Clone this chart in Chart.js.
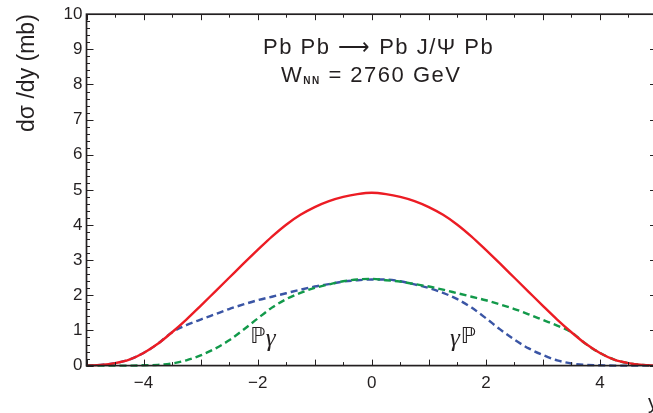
<!DOCTYPE html>
<html>
<head>
<meta charset="utf-8">
<script src="https://cdn.jsdelivr.net/npm/chart.js@4/dist/chart.umd.min.js"></script>
<style>
  html, body { margin: 0; padding: 0; background: #fff; overflow: hidden; }
  #wrap { width: 670px; height: 413px; }
</style>
</head>
<body>
<div id="wrap"><canvas id="mainChart" width="670" height="413"></canvas></div>
<script>
// rapidity grid (y) and dσ/dy values in mb
const rapidity = [-5, -4.75, -4.5, -4.25, -4, -3.75, -3.5, -3.25, -3, -2.75, -2.5, -2.25, -2, -1.75, -1.5, -1.25, -1, -0.75, -0.5, -0.25,
                  0, 0.25, 0.5, 0.75, 1, 1.25, 1.5, 1.75, 2, 2.25, 2.5, 2.75, 3, 3.25, 3.5, 3.75, 4, 4.25, 4.5, 4.75, 5];
const totalXs = [0, 0.02, 0.07, 0.17, 0.36, 0.62, 0.95, 1.31, 1.70, 2.10, 2.50, 2.90, 3.29, 3.67, 4.01, 4.29, 4.51, 4.68, 4.80, 4.88,
                 4.92, 4.88, 4.80, 4.68, 4.51, 4.29, 4.01, 3.67, 3.29, 2.90, 2.50, 2.10, 1.70, 1.31, 0.95, 0.62, 0.36, 0.17, 0.07, 0.02, 0];
const gammaPom = [0, 0.02, 0.07, 0.17, 0.36, 0.62, 0.95, 1.15, 1.31, 1.46, 1.61, 1.74, 1.86, 1.96, 2.06, 2.16, 2.25, 2.32, 2.39, 2.43,
                  2.45, 2.45, 2.40, 2.31, 2.21, 2.07, 1.89, 1.65, 1.35, 1.03, 0.74, 0.49, 0.30, 0.15, 0.06, 0.02, 0.01, 0, 0, 0, 0];
const pomGamma = [0, 0, 0, 0, 0.01, 0.02, 0.06, 0.15, 0.29, 0.48, 0.72, 1.02, 1.34, 1.65, 1.89, 2.07, 2.21, 2.31, 2.40, 2.45,
                  2.47, 2.43, 2.39, 2.32, 2.25, 2.16, 2.06, 1.96, 1.86, 1.74, 1.61, 1.46, 1.30, 1.14, 0.95, 0.62, 0.36, 0.17, 0.07, 0.02, 0];

const xTicks = [-4, -2, 0, 2, 4];
const yTicks = [0, 1, 2, 3, 4, 5, 6, 7, 8, 9, 10];

const INK = '#231f20';
const FONT = '"Liberation Sans", Arial, sans-serif';

function toPoints(values) {
    return rapidity.map((r, i) => ({ x: r, y: values[i] }));
}

// frame with inward ticks, plus the text drawn inside the plot
const framePlugin = {
    id: 'frame',
    afterDraw(chart) {
        const { ctx, chartArea: a, scales: { x, y } } = chart;
        ctx.save();
        ctx.strokeStyle = INK;
        ctx.lineWidth = 1.7;
        ctx.strokeRect(a.left, a.top, a.right - a.left, a.bottom - a.top);

        ctx.lineWidth = 1;
        ctx.beginPath();
        for (let i = 0; i <= 20; i++) {
            const px = Math.round(x.getPixelForValue(-5 + i * 0.5)) + 0.5;
            const len = i % 2 === 0 ? 6 : 3.5;
            ctx.moveTo(px, a.bottom); ctx.lineTo(px, a.bottom - len);
            ctx.moveTo(px, a.top); ctx.lineTo(px, a.top + len);
        }
        for (let i = 0; i <= 50; i++) {
            const py = Math.round(y.getPixelForValue(i * 0.2)) + 0.5;
            const len = i % 5 === 0 ? 7 : 3.5;
            ctx.moveTo(a.left, py); ctx.lineTo(a.left + len, py);
            ctx.moveTo(a.right, py); ctx.lineTo(a.right - len, py);
        }
        ctx.stroke();

        ctx.fillStyle = INK;
        ctx.textBaseline = 'middle';
        ctx.textAlign = 'center';
        ctx.letterSpacing = '1.5px';
        ctx.font = '22px ' + FONT;
        ctx.fillText('Pb Pb \u27F6 Pb J/\u03A8 Pb', x.getPixelForValue(0.12), y.getPixelForValue(9.05));

        // W_NN = 2760 GeV
        const cy = y.getPixelForValue(8.25);
        const big = '22px ' + FONT, small = 'bold 10px ' + FONT;
        ctx.font = big; const wW = ctx.measureText('W').width;
        const wR = ctx.measureText(' = 2760 GeV').width;
        ctx.font = small; const wS = ctx.measureText('NN').width;
        let sx = x.getPixelForValue(0) - (wW + wS + 1 + wR) / 2;
        ctx.textAlign = 'left';
        ctx.font = big; ctx.fillText('W', sx, cy); sx += wW;
        ctx.font = small; ctx.fillText('NN', sx, cy + 6); sx += wS;
        ctx.font = big; ctx.fillText(' = 2760 GeV', sx, cy);
        ctx.letterSpacing = '0px';

        // process labels
        const ly = y.getPixelForValue(0.8);
        const pom = '22px "DejaVu Sans", sans-serif', gam = 'italic 25px "Liberation Serif", serif';
        let lx = x.getPixelForValue(-2.13);
        ctx.font = pom; ctx.fillText('\u2119', lx, ly); lx += ctx.measureText('\u2119').width;
        ctx.font = gam; ctx.fillText('\u03B3', lx, ly + 2);
        lx = x.getPixelForValue(1.37);
        ctx.font = gam; ctx.fillText('\u03B3', lx, ly + 2); lx += ctx.measureText('\u03B3').width + 1;
        ctx.font = pom; ctx.fillText('\u2119', lx, ly);

        // axis name at the right end
        ctx.font = '20px ' + FONT;
        ctx.textBaseline = 'alphabetic';
        ctx.fillText('y', a.right - 9, 409);
        ctx.restore();
    }
};

const common = {
    fill: false,
    pointRadius: 0,
    borderWidth: 2.4,
    cubicInterpolationMode: 'monotone',
    clip: false
};

new Chart(document.getElementById('mainChart'), {
    type: 'line',
    data: {
        datasets: [
            { ...common, label: 'total', data: toPoints(totalXs), borderColor: '#ec1c24' },
            { ...common, label: 'Pγ', data: toPoints(pomGamma), borderColor: '#12994a', borderDash: [7, 4] },
            { ...common, label: 'γP', data: toPoints(gammaPom), borderColor: '#3a55a5', borderDash: [7, 4] }
        ]
    },
    options: {
        responsive: false,
        animation: false,
        layout: { padding: { left: 4, top: 12, right: 13, bottom: 11 } },
        plugins: { legend: { display: false }, tooltip: { enabled: false } },
        scales: {
            x: {
                type: 'linear',
                min: -5, max: 5,
                afterBuildTicks: s => { s.ticks = xTicks.map(v => ({ value: v })); },
                grid: { display: false, drawTicks: false },
                border: { display: false },
                ticks: {
                    padding: 8,
                    maxRotation: 0,
                    autoSkip: false,
                    color: INK,
                    font: { family: FONT, size: 17 },
                    callback: v => (v < 0 ? '\u2212' + Math.abs(v) : '' + v)
                }
            },
            y: {
                min: 0, max: 10,
                afterBuildTicks: s => { s.ticks = yTicks.map(v => ({ value: v })); },
                grid: { display: false, drawTicks: false },
                border: { display: false },
                ticks: { padding: 4, color: INK, font: { family: FONT, size: 17 } },
                title: {
                    display: true,
                    text: 'd\u03C3 /dy (mb)',
                    align: 'end',
                    color: INK,
                    font: { family: FONT, size: 23 },
                    padding: { top: 10, bottom: 18 }
                }
            }
        }
    },
    plugins: [framePlugin]
});
</script>
</body>
</html>
